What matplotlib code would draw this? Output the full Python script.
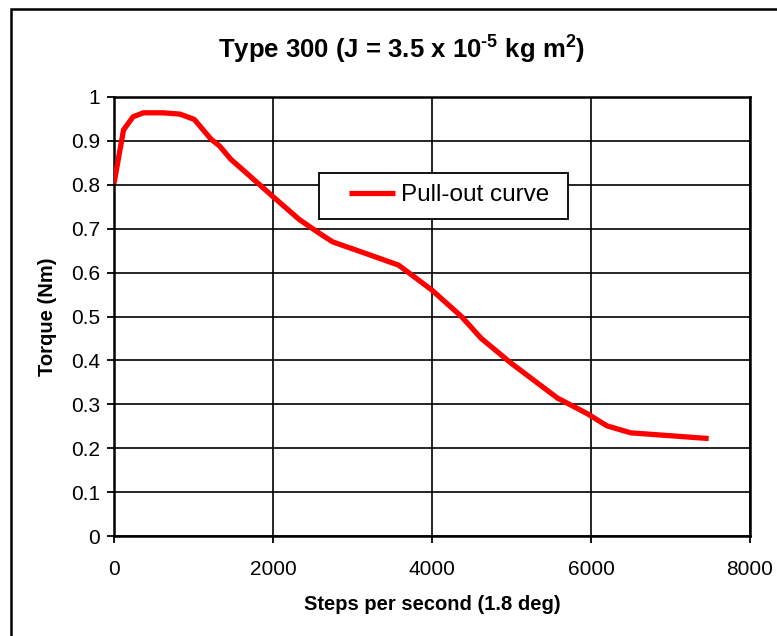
import matplotlib
matplotlib.use("Agg")
import matplotlib.pyplot as plt
from matplotlib.patches import Rectangle

plt.rcParams['font.family'] = ['Liberation Sans', 'DejaVu Sans']
plt.rcParams['mathtext.fontset'] = 'custom'
plt.rcParams['mathtext.rm'] = 'Liberation Sans:bold'
plt.rcParams['mathtext.bf'] = 'Liberation Sans:bold'
plt.rcParams['mathtext.it'] = 'Liberation Sans:bold'

steps = [0, 120, 240, 370, 620, 830, 1010, 1220, 1330, 1470, 1640, 2000, 2330,
         2580, 2750, 3160, 3580, 4000, 4370, 4620, 5000, 5580, 5950, 6200, 6500, 7480]
torque = [0.803, 0.925, 0.955, 0.964, 0.964, 0.961, 0.949, 0.904, 0.888, 0.858,
          0.831, 0.773, 0.721, 0.690, 0.670, 0.644, 0.617, 0.560, 0.500, 0.450,
          0.393, 0.314, 0.279, 0.251, 0.235, 0.222]
xticks = [0, 2000, 4000, 6000, 8000]
yticks = [0, 0.1, 0.2, 0.3, 0.4, 0.5, 0.6, 0.7, 0.8, 0.9, 1]
ytick_labels = ['0', '0.1', '0.2', '0.3', '0.4', '0.5', '0.6', '0.7', '0.8', '0.9', '1']

W, H = 777, 636
fig = plt.figure(figsize=(W / 100, H / 100), dpi=100)
ax = fig.add_axes([114 / W, 1 - 536 / H, (750 - 114) / W, (536 - 97) / H])

ax.plot(steps, torque, color='#ff0000', lw=3.8, label='Pull-out curve',
        solid_joinstyle='round', solid_capstyle='butt', zorder=3)

ax.set_xlim(0, 8000)
ax.set_ylim(0, 1)
ax.set_xticks(xticks)
ax.set_xticklabels([str(v) for v in xticks])
ax.set_yticks(yticks)
ax.set_yticklabels(ytick_labels)
ax.grid(True, color='black', lw=1.2)
ax.set_axisbelow(True)
for s in ax.spines.values():
    s.set_linewidth(1.8)
    s.set_color('black')
ax.tick_params(direction='out', length=5, width=1.3, labelsize=15, colors='black', pad=5)
ax.tick_params(axis='x', pad=12)

ax.set_xlabel('Steps per second (1.8 deg)', fontsize=14.5, fontweight='bold', labelpad=12)
ax.set_ylabel('Torque (Nm)', fontsize=14.5, fontweight='bold', labelpad=10)
title = 'Type 300 (J = 3.5 x 10$^{\u20105}$ kg m$^{2}$)'
fig.text(402 / W, 1 - 50 / H, title, ha='center', va='center',
         fontsize=18.5, fontweight='bold')

# legend frame
ax.add_patch(Rectangle(((319 - 114) / 636, (536 - 219) / 439), (568 - 319) / 636, 46 / 439,
                       transform=ax.transAxes, facecolor='white', edgecolor='black',
                       lw=1.3, zorder=4, clip_on=False))
leg = ax.legend(loc='center left', bbox_to_anchor=((349 - 114) / 636, (536 - 195) / 439),
                fontsize=17.5, frameon=False, borderpad=0, borderaxespad=0,
                handlelength=1.9, handletextpad=0.22)
leg.set_zorder(5)

fig.patches.append(Rectangle((11 / W, -0.2), 1.5, 0.2 + 1 - 9 / H, transform=fig.transFigure,
                             fill=False, edgecolor='black', lw=1.8))

fig.savefig('out.png', dpi=100)
